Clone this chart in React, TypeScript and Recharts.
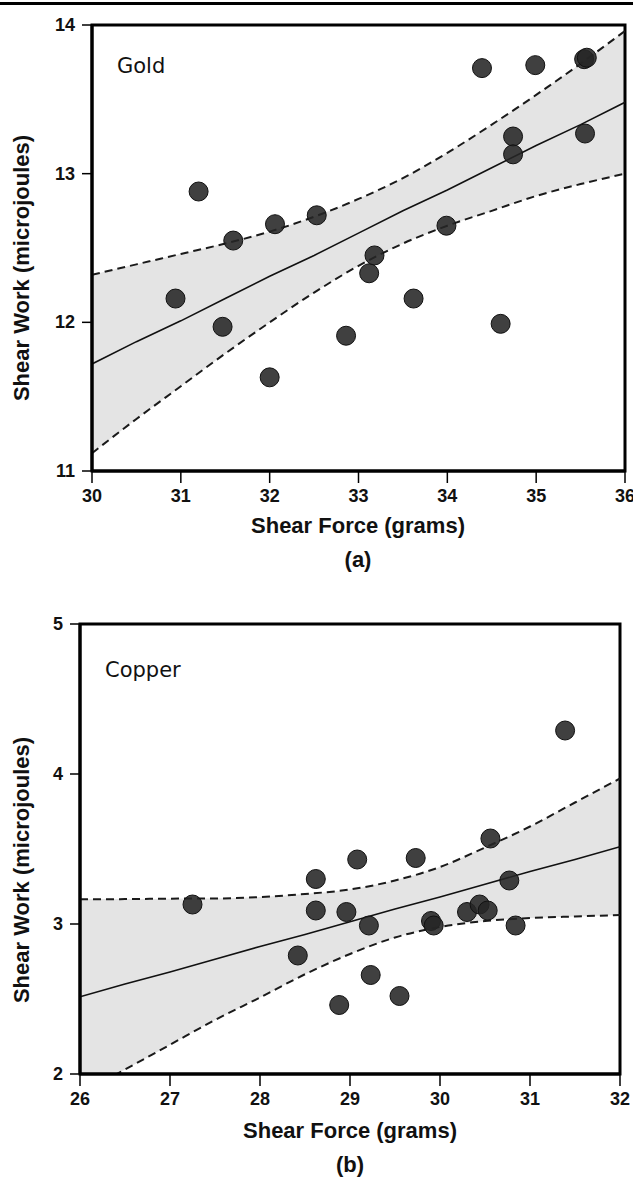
import React from "react";
import {
  ComposedChart,
  Area,
  Line,
  Scatter,
  XAxis,
  YAxis,
  ReferenceArea,
} from "recharts";

// Gold wire bonds: shear force (g) vs shear work (µJ)
const goldForce = [
  30.94, 31.2, 31.47, 31.59, 32.0, 32.06, 32.53, 32.86, 33.12, 33.18, 33.62,
  33.99, 34.39, 34.6, 34.74, 34.74, 34.99, 35.54, 35.57, 35.55,
];
const goldWork = [
  12.16, 12.88, 11.97, 12.55, 11.63, 12.66, 12.72, 11.91, 12.33, 12.45, 12.16,
  12.65, 13.71, 11.99, 13.25, 13.13, 13.73, 13.77, 13.78, 13.27,
];
const goldBandX = [30, 30.5, 31, 31.5, 32, 32.5, 33, 33.5, 34, 34.5, 35, 35.5, 36];
const goldFit = [
  11.72, 11.87, 12.01, 12.16, 12.31, 12.45, 12.6, 12.75, 12.89, 13.04, 13.19,
  13.33, 13.48,
];
const goldUpper = [
  12.32, 12.39, 12.46, 12.53, 12.61, 12.71, 12.83, 12.97, 13.14, 13.33, 13.53,
  13.74, 13.96,
];
const goldLower = [
  11.12, 11.35, 11.57, 11.79, 12.0, 12.2, 12.38, 12.53, 12.65, 12.75, 12.85,
  12.93, 13.0,
];
const goldXTicks = [30, 31, 32, 33, 34, 35, 36];
const goldYTicks = [11, 12, 13, 14];

// Copper wire bonds
const copperForce = [
  27.25, 28.42, 28.62, 28.62, 28.88, 28.96, 29.08, 29.21, 29.23, 29.55, 29.73,
  29.9, 29.93, 30.3, 30.44, 30.53, 30.56, 30.77, 30.84, 31.39,
];
const copperWork = [
  3.13, 2.79, 3.3, 3.09, 2.46, 3.08, 3.43, 2.99, 2.66, 2.52, 3.44, 3.02, 2.99,
  3.08, 3.13, 3.09, 3.57, 3.29, 2.99, 4.29,
];
const copperBandX = [26, 26.5, 27, 27.5, 28, 28.5, 29, 29.5, 30, 30.5, 31, 31.5, 32];
const copperFit = [
  2.515, 2.6, 2.68, 2.765, 2.85, 2.93, 3.015, 3.1, 3.18, 3.265, 3.35, 3.43, 3.515,
];
const copperUpper = [
  3.165, 3.166, 3.169, 3.17, 3.18, 3.2, 3.23, 3.29, 3.38, 3.51, 3.65, 3.81, 3.97,
];
const copperLower = [
  1.865, 2.03, 2.195, 2.36, 2.51, 2.665, 2.8, 2.91, 2.98, 3.02, 3.04, 3.05, 3.06,
];
const copperXTicks = [26, 27, 28, 29, 30, 31, 32];
const copperYTicks = [2, 3, 4, 5];

const points = (xs: number[], ys: number[]) =>
  xs.map((x, i) => ({ x, y: ys[i] }));

const band = (xs: number[], fit: number[], up: number[], lo: number[]) =>
  xs.map((x, i) => ({ x, fit: fit[i], upper: up[i], lower: lo[i], range: [lo[i], up[i]] }));

const SANS = "'Liberation Sans', Arial, Helvetica, sans-serif";

// tick labels drawn as plain svg text so the size is under our control
const XTick = (p: any) => (
  <text
    x={p.x}
    y={p.y + 19}
    textAnchor="middle"
    fontFamily={SANS}
    fontWeight={700}
    fontSize={18}
    fill="#111"
  >
    {p.payload.value}
  </text>
);

const YTick = (p: any) => (
  <text
    x={p.x - 7}
    y={p.y + 6}
    textAnchor="end"
    fontFamily={SANS}
    fontWeight={700}
    fontSize={18}
    fill="#111"
  >
    {p.payload.value}
  </text>
);

const Dot = (p: any) => (
  <circle
    cx={p.cx}
    cy={p.cy}
    r={9.5}
    fill="#262626"
    fillOpacity={0.88}
    stroke="#111"
    strokeWidth={1}
  />
);

interface PanelProps {
  width: number;
  height: number;
  margin: { top: number; right: number; bottom: number; left: number };
  rows: ReturnType<typeof band>;
  dots: { x: number; y: number }[];
  xTicks: number[];
  yTicks: number[];
}

function Panel({ width, height, margin, rows, dots, xTicks, yTicks }: PanelProps) {
  const xd: [number, number] = [xTicks[0], xTicks[xTicks.length - 1]];
  const yd: [number, number] = [yTicks[0], yTicks[yTicks.length - 1]];
  return (
    <ComposedChart width={width} height={height} data={rows} margin={margin}>
      <XAxis
        dataKey="x"
        type="number"
        domain={xd}
        ticks={xTicks}
        allowDataOverflow
        tickSize={12}
        tickMargin={0}
        axisLine={{ stroke: "#000", strokeWidth: 3 }}
        tickLine={{ stroke: "#000", strokeWidth: 1.5 }}
        tick={XTick}
        height={40}
      />
      <YAxis
        type="number"
        domain={yd}
        ticks={yTicks}
        allowDataOverflow
        tickSize={10}
        tickMargin={0}
        axisLine={{ stroke: "#000", strokeWidth: 3 }}
        tickLine={{ stroke: "#000", strokeWidth: 1.5 }}
        tick={YTick}
        width={60}
      />
      <Area
        dataKey="range"
        type="monotone"
        stroke="none"
        fill="#e4e4e4"
        fillOpacity={1}
        isAnimationActive={false}
      />
      <Line
        dataKey="upper"
        type="monotone"
        stroke="#1a1a1a"
        strokeWidth={2}
        strokeDasharray="8 5"
        dot={false}
        isAnimationActive={false}
      />
      <Line
        dataKey="lower"
        type="monotone"
        stroke="#1a1a1a"
        strokeWidth={2}
        strokeDasharray="8 5"
        dot={false}
        isAnimationActive={false}
      />
      <Line
        dataKey="fit"
        type="linear"
        stroke="#111"
        strokeWidth={1.6}
        dot={false}
        isAnimationActive={false}
      />
      <Scatter data={dots} dataKey="y" shape={Dot} isAnimationActive={false} />
      <ReferenceArea
        x1={xd[0]}
        x2={xd[1]}
        y1={yd[0]}
        y2={yd[1]}
        fill="none"
        stroke="#000"
        strokeWidth={3}
      />
    </ComposedChart>
  );
}

const abs = (s: React.CSSProperties): React.CSSProperties => ({
  position: "absolute",
  whiteSpace: "nowrap",
  fontFamily: SANS,
  color: "#111",
  ...s,
});

const axisTitle = { fontSize: 22, fontWeight: 700 };
const metalLabel = { fontSize: 21, fontFamily: "'DejaVu Sans', sans-serif" };

export default function App() {
  return (
    <div
      style={{
        position: "absolute",
        left: 0,
        top: 0,
        width: 633,
        height: 1184,
        background: "#fff",
        overflow: "hidden",
      }}
    >
      <div style={abs({ left: 0, top: 2, width: 633, height: 3, background: "#000" })} />

      <div style={abs({ left: 0, top: 0 })}>
        <Panel
          width={633}
          height={560}
          margin={{ top: 25, right: 8, bottom: 49, left: 32 }}
          rows={band(goldBandX, goldFit, goldUpper, goldLower)}
          dots={points(goldForce, goldWork)}
          xTicks={goldXTicks}
          yTicks={goldYTicks}
        />
      </div>
      <div style={abs({ left: 117, top: 54, ...metalLabel })}>Gold</div>
      <div
        style={abs({
          left: 22,
          top: 268,
          transform: "translate(-50%, -50%) rotate(-90deg)",
          ...axisTitle,
        })}
      >
        Shear Work (microjoules)
      </div>
      <div style={abs({ left: 358, top: 526, transform: "translate(-50%, -50%)", ...axisTitle })}>
        Shear Force (grams)
      </div>
      <div style={abs({ left: 358, top: 560, transform: "translate(-50%, -50%)", ...axisTitle })}>
        (a)
      </div>

      <div style={abs({ left: 0, top: 560 })}>
        <Panel
          width={633}
          height={600}
          margin={{ top: 64, right: 13, bottom: 46, left: 20 }}
          rows={band(copperBandX, copperFit, copperUpper, copperLower)}
          dots={points(copperForce, copperWork)}
          xTicks={copperXTicks}
          yTicks={copperYTicks}
        />
      </div>
      <div style={abs({ left: 105, top: 658, ...metalLabel })}>Copper</div>
      <div
        style={abs({
          left: 22,
          top: 870,
          transform: "translate(-50%, -50%) rotate(-90deg)",
          ...axisTitle,
        })}
      >
        Shear Work (microjoules)
      </div>
      <div style={abs({ left: 350, top: 1131, transform: "translate(-50%, -50%)", ...axisTitle })}>
        Shear Force (grams)
      </div>
      <div style={abs({ left: 350, top: 1165, transform: "translate(-50%, -50%)", ...axisTitle })}>
        (b)
      </div>
    </div>
  );
}
